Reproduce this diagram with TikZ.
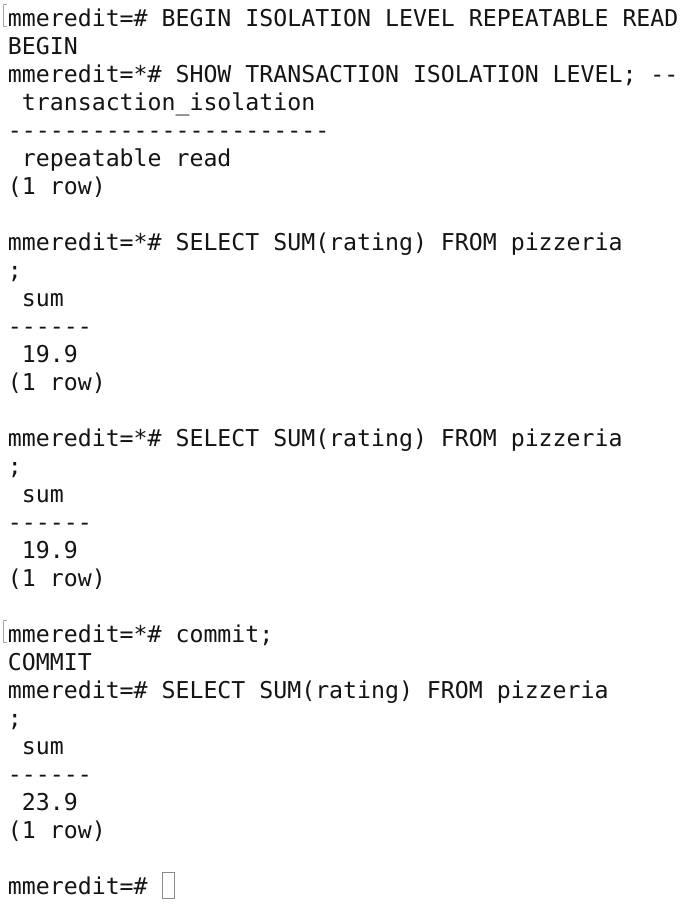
\documentclass[tikz,border=0pt]{standalone}
\usepackage{fontspec}
\setmonofont{DejaVu Sans Mono}
\begin{document}
\begin{tikzpicture}[x=1pt,y=-1pt,
  ln/.style={anchor=base west,inner sep=0pt,outer sep=0pt,font=\ttfamily\fontsize{23.2}{28}\selectfont,text=black!92},
  grayline/.style={draw=black!45,line width=1.2pt}]
\useasboundingbox[fill=white] (0,0) rectangle (688,924);
\node[ln] (l0) at (8,26) {mmeredit=\# BEGIN ISOLATION LEVEL REPEATABLE READ};
\node[ln] (l1) at (8,54) {BEGIN};
\node[ln] (l2) at (8,82) {mmeredit=*\# SHOW TRANSACTION ISOLATION LEVEL; {-}{-}};
\node[ln] (l3) at (8,110) {\ transaction\_isolation};
\node[ln] (l4) at (8,138) {{-}{-}{-}{-}{-}{-}{-}{-}{-}{-}{-}{-}{-}{-}{-}{-}{-}{-}{-}{-}{-}{-}{-}};
\node[ln] (l5) at (8,166) {\ repeatable read};
\node[ln] (l6) at (8,194) {(1 row)};
\node[ln] (l8) at (8,250) {mmeredit=*\# SELECT SUM(rating) FROM pizzeria};
\node[ln] (l9) at (8,278) {;};
\node[ln] (l10) at (8,306) {\ sum};
\node[ln] (l11) at (8,334) {{-}{-}{-}{-}{-}{-}};
\node[ln] (l12) at (8,362) {\ 19.9};
\node[ln] (l13) at (8,390) {(1 row)};
\node[ln] (l15) at (8,446) {mmeredit=*\# SELECT SUM(rating) FROM pizzeria};
\node[ln] (l16) at (8,474) {;};
\node[ln] (l17) at (8,502) {\ sum};
\node[ln] (l18) at (8,530) {{-}{-}{-}{-}{-}{-}};
\node[ln] (l19) at (8,558) {\ 19.9};
\node[ln] (l20) at (8,586) {(1 row)};
\node[ln] (l22) at (8,642) {mmeredit=*\# commit;};
\node[ln] (l23) at (8,670) {COMMIT};
\node[ln] (l24) at (8,698) {mmeredit=\# SELECT SUM(rating) FROM pizzeria};
\node[ln] (l25) at (8,726) {;};
\node[ln] (l26) at (8,754) {\ sum};
\node[ln] (l27) at (8,782) {{-}{-}{-}{-}{-}{-}};
\node[ln] (l28) at (8,810) {\ 23.9};
\node[ln] (l29) at (8,838) {(1 row)};
\node[ln] (l31) at (8,894) {mmeredit=\#};
% bracket marks
\draw[grayline,draw=black!35,line width=1.6pt] (6.5,4.5) -- (3.3,4.5) -- (3.3,26.5) -- (6.5,26.5);
\draw[grayline,draw=black!35,line width=1.6pt] (6.5,620.5) -- (3.3,620.5) -- (3.3,642.5) -- (6.5,642.5);
% cursor
\draw[grayline] (162.6,872.6) rectangle (174.6,898.6);
\end{tikzpicture}
\end{document}
